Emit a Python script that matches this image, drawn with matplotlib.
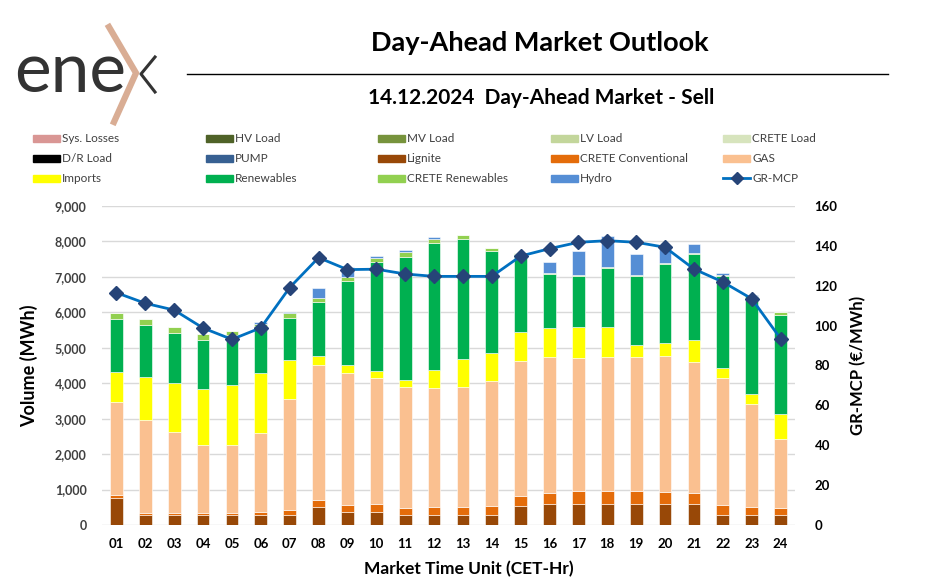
import matplotlib

matplotlib.use("Agg")
import matplotlib.pyplot as plt
import numpy as np
from matplotlib.lines import Line2D
from matplotlib.patches import Rectangle

plt.rcParams["font.family"] = ["Lato", "DejaVu Sans"]

hours = [f"{h:02d}" for h in range(1, 25)]

# stacked bar segments (MWh), bottom to top
lignite = [770, 282, 282, 282, 282, 282, 282, 517, 360, 376, 282, 282,
           282, 282, 536, 583, 583, 583, 583, 583, 583, 282, 282, 282]
crete_conventional = [76, 47, 47, 47, 66, 94, 141, 188, 204, 207, 188, 216,
                      235, 263, 291, 329, 376, 376, 376, 357, 311, 282, 235, 188]
gas = [2632, 2624, 2295, 1928, 1909, 2219, 3131, 3818, 3734, 3574, 3423, 3376,
       3376, 3517, 3809, 3837, 3762, 3790, 3790, 3828, 3704, 3574, 2887, 1956]
imports = [847, 1212, 1372, 1580, 1692, 1693, 1091, 254, 216, 188, 207, 499,
           790, 790, 799, 818, 865, 846, 338, 375, 611, 300, 291, 715]
renewables = [1495, 1487, 1420, 1391, 1411, 1326, 1204, 1514, 2360, 3074, 3470, 3592,
              3386, 2878, 2200, 1514, 1429, 1665, 1947, 2220, 2436, 2586, 2755, 2783]
crete_renewables = [160, 169, 170, 160, 104, 56, 122, 113, 132, 123, 131, 113,
                    121, 94, 48, 29, 25, 20, 16, 17, 35, 26, 20, 76]
hydro = [0, 0, 0, 0, 0, 50, 38, 282, 282, 47, 57, 37,
         0, 0, 0, 319, 699, 873, 595, 470, 238, 68, 20, 0]
zero = [0] * 24

# GR-MCP (EUR/MWh)
gr_mcp = [116.5, 111.2, 107.8, 98.8, 93.1, 98.9, 119.1, 134.1, 128.1, 128.3, 125.9, 124.7,
          124.7, 124.7, 134.9, 138.6, 141.8, 142.6, 141.8, 139.3, 128.4, 121.9, 113.5, 93.5]

series = [
    ("Sys. Losses", "#D99694", zero),
    ("HV Load", "#4F6228", zero),
    ("MV Load", "#77933C", zero),
    ("LV Load", "#C3D69B", zero),
    ("CRETE Load", "#D7E4BD", zero),
    ("D/R Load", "#000000", zero),
    ("PUMP", "#376092", zero),
    ("Lignite", "#984807", lignite),
    ("CRETE Conventional", "#E46C0A", crete_conventional),
    ("GAS", "#FAC090", gas),
    ("Imports", "#FFFF00", imports),
    ("Renewables", "#00B050", renewables),
    ("CRETE Renewables", "#92D050", crete_renewables),
    ("Hydro", "#558ED5", hydro),
]

W, H = 930, 584


def px(x, y):
    return x / W, 1 - y / H


fig = plt.figure(figsize=(9.3, 5.84), dpi=100)
ax = fig.add_axes([102 / W, 1 - 525 / H, 693 / W, 319 / H])
ax2 = ax.twinx()

x = np.arange(len(hours))
bottom = np.zeros(len(hours))
for name, color, vals in series:
    ax.bar(x, vals, bottom=bottom, width=0.44, color=color, edgecolor="white",
           linewidth=0.4, zorder=2)
    bottom += np.array(vals)

ax.set_xlim(-0.5, 23.5)
ax.set_ylim(0, 9000)
ax.set_yticks(range(0, 9001, 1000))
ax.set_yticklabels([f"{v:,}" for v in range(0, 9001, 1000)])
ax.set_xticks(x)
ax.set_xticklabels(hours)
ax.grid(axis="y", color="#D9D9D9", linewidth=1, zorder=0)
ax.set_axisbelow(True)
for a in (ax, ax2):
    for s in a.spines.values():
        s.set_visible(False)
ax.tick_params(axis="y", length=0, pad=11, labelsize=9, labelcolor="#404040")
ax.tick_params(axis="x", length=0, pad=9, labelsize=9.5)
for lbl in ax.get_yticklabels() + ax.get_xticklabels():
    lbl.set_fontweight("bold")

ax2.plot(x, gr_mcp, color="#0070C0", linewidth=2, marker="D", markersize=7,
         markerfacecolor="#264478", markeredgecolor="#264478", zorder=5)
ax2.set_ylim(0, 160)
ax2.set_yticks(range(0, 161, 20))
ax2.tick_params(axis="y", length=0, pad=14, labelsize=9.5)
for lbl in ax2.get_yticklabels():
    lbl.set_fontweight("bold")

ax.set_ylabel("Volume (MWh)", fontsize=13, fontweight="bold")
ax.yaxis.set_label_coords(-0.092, 0.5)
ax2.set_ylabel("GR-MCP (€/MWh)", fontsize=12, fontweight="bold", rotation=90)
ax2.yaxis.set_label_coords(1.079, 0.5)
ax.set_xlabel("Market Time Unit (CET-Hr)", fontsize=12.5, fontweight="bold")
ax.xaxis.set_label_coords(0.53, -0.112)

# titles
fig.text(*px(540, 43), "Day-Ahead Market Outlook", ha="center", va="center",
         fontsize=19.5, fontweight="bold")
fig.add_artist(Line2D([187 / W, 888 / W], [1 - 74 / H] * 2, color="black", linewidth=1))
fig.text(*px(541, 98), "14.12.2024  Day-Ahead Market - Sell", ha="center", va="center",
         fontsize=15, fontweight="bold")

# logo
fig.text(*px(14, 92), "ene", ha="left", va="baseline", fontsize=50, color="#333333")
tan = "#D9AD94"
fig.add_artist(Line2D([px(109, 27)[0], px(136, 73)[0], px(114, 122)[0]],
                      [px(109, 27)[1], px(136, 73)[1], px(114, 122)[1]],
                      color=tan, linewidth=4.5, solid_joinstyle="miter"))
fig.add_artist(Line2D([px(155, 57)[0], px(141, 74)[0], px(155, 92)[0]],
                      [px(155, 57)[1], px(141, 74)[1], px(155, 92)[1]],
                      color="#333333", linewidth=2.2))

# legend (row-major, 5 columns)
entries = [(n, c) for n, c, _ in series] + [("GR-MCP", None)]
for i, (name, color) in enumerate(entries):
    r, c = divmod(i, 5)
    x0 = 33 + c * 172.5
    y0 = 139 + r * 19.5
    if color is None:
        fig.add_artist(Line2D([x0 / W, (x0 + 27) / W], [1 - y0 / H] * 2, color="#0070C0",
                              linewidth=2))
        fig.add_artist(Line2D([(x0 + 13.5) / W], [1 - y0 / H], marker="D", markersize=6,
                              color="#264478"))
    else:
        fig.add_artist(Rectangle(px(x0, y0 + 3.5), 27 / W, 7 / H, color=color,
                                 transform=fig.transFigure))
    fig.text(*px(x0 + 29, y0), name, ha="left", va="center", fontsize=8.5, color="#404040")

fig.savefig("out.png", dpi=100)
